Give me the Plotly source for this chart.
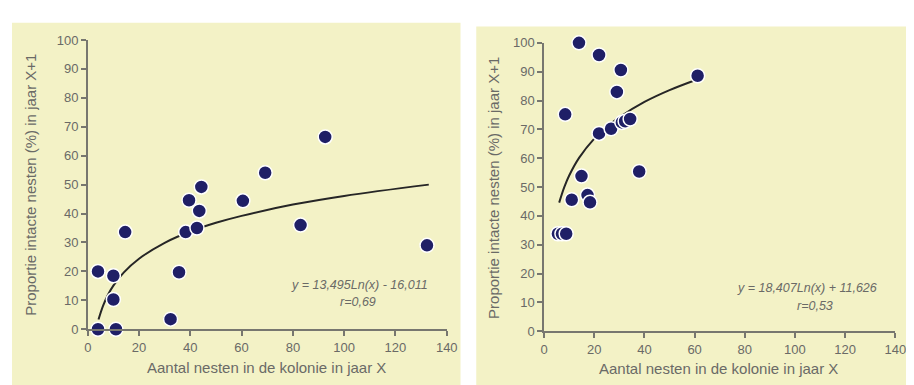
import plotly.graph_objects as go

# ---- data: left panel ----
left_x = [4, 4, 10, 10, 11, 14.6, 32.3, 35.6, 38.2, 39.5, 42.6, 43.5, 44.3, 60.5, 69.2, 83, 92.6, 132.3]
left_y = [0, 20, 10.3, 18.5, 0, 33.6, 3.5, 19.7, 33.6, 44.6, 35, 40.9, 49.2, 44.4, 54.1, 36, 66.5, 29]
left_fit_x = [4.2, 6, 8, 10, 14, 20, 30, 40, 50, 60, 80, 100, 133]
left_fit_y = [3.4, 8.2, 12.1, 15.1, 19.6, 24.4, 29.9, 33.8, 36.8, 39.2, 43.1, 46.1, 50.0]
left_eq = "y = 13,495Ln(x) - 16,011"
left_r = "r=0,69"

# ---- data: right panel ----
right_x = [5.5, 7.1, 8.8, 8.4, 11, 13.9, 14.9, 17.3, 18.3, 21.9, 21.9, 26.7, 29, 30.6, 31, 32.3, 34.3, 37.9, 61.2]
right_y = [33.8, 33.8, 33.8, 75.2, 45.6, 100, 53.8, 47.2, 44.7, 95.8, 68.6, 70.2, 83, 90.6, 72.4, 72.8, 73.6, 55.4, 88.6]
right_fit_x = [6, 8, 10, 14, 20, 25, 30, 40, 50, 61]
right_fit_y = [44.6, 49.9, 54.0, 60.2, 66.8, 70.9, 74.2, 79.5, 83.6, 87.3]
right_eq = "y = 18,407Ln(x) + 11,626"
right_r = "r=0,53"

x_ticks = [0, 20, 40, 60, 80, 100, 120, 140]
y_ticks = [0, 10, 20, 30, 40, 50, 60, 70, 80, 90, 100]
x_title = "Aantal nesten in de kolonie in jaar X"
y_title = "Proportie intacte nesten (%) in jaar X+1"

W, H = 914, 385
PANEL = "#f3f2c6"
NAVY = "#1f1f66"
GRAY = "#6a6a66"
AXIS = "#77776f"
FONT = "Liberation Sans, Arial, sans-serif"

fig = go.Figure()

marker = dict(size=14, color=NAVY, line=dict(color="white", width=1.5))
line = dict(color="#262626", width=2, shape="spline")

fig.add_trace(go.Scatter(x=left_fit_x, y=left_fit_y, mode="lines", line=line,
                         xaxis="x", yaxis="y", showlegend=False, hoverinfo="skip"))
fig.add_trace(go.Scatter(x=left_x, y=left_y, mode="markers", marker=marker,
                         xaxis="x", yaxis="y", showlegend=False, cliponaxis=False))
fig.add_trace(go.Scatter(x=right_fit_x, y=right_fit_y, mode="lines", line=line,
                         xaxis="x2", yaxis="y2", showlegend=False, hoverinfo="skip"))
fig.add_trace(go.Scatter(x=right_x, y=right_y, mode="markers", marker=marker,
                         xaxis="x2", yaxis="y2", showlegend=False, cliponaxis=False))

def px_x(p):
    return p / W

def px_y(p):
    return 1 - p / H

axis_common = dict(showgrid=False, zeroline=False, showline=True, linecolor=AXIS, linewidth=1.5,
                   ticks="outside", ticklen=5, tickcolor=AXIS, tickwidth=1.5,
                   tickfont=dict(family=FONT, size=13, color=GRAY))

fig.update_layout(
    width=W, height=H,
    margin=dict(l=0, r=0, t=0, b=0),
    paper_bgcolor="white",
    plot_bgcolor="rgba(0,0,0,0)",
    xaxis=dict(domain=[px_x(77), px_x(442)], range=[0, 140], tickvals=x_ticks, anchor="y",
               **axis_common),
    yaxis=dict(domain=[px_y(327), px_y(26)], range=[0, 100], tickvals=y_ticks, anchor="x",
               **axis_common),
    xaxis2=dict(domain=[px_x(541), px_x(898)], range=[0, 140], tickvals=x_ticks, anchor="y2",
                **axis_common),
    yaxis2=dict(domain=[px_y(329), px_y(29)], range=[0, 100], tickvals=y_ticks, anchor="x2",
                **axis_common),
    shapes=[
        dict(type="rect", xref="paper", yref="paper", x0=0, x1=px_x(456), y0=0, y1=px_y(8),
             fillcolor=PANEL, line=dict(width=0), layer="below"),
        dict(type="rect", xref="paper", yref="paper", x0=px_x(472), x1=1, y0=0, y1=px_y(12),
             fillcolor=PANEL, line=dict(width=0), layer="below"),
    ],
)

ann_font = dict(family=FONT, size=12.5, color=GRAY)
title_font = dict(family=FONT, size=15, color=GRAY)

def ann(text, x, y, font, angle=0):
    return dict(text=text, x=px_x(x), y=px_y(y), xref="paper", yref="paper",
                xanchor="center", yanchor="middle", textangle=angle,
                showarrow=False, font=font)

annotations = [
    ann("<i>%s</i>" % left_eq, 353, 281, ann_font),
    ann("<i>%s</i>" % left_r, 352, 299, ann_font),
    ann("<i>%s</i>" % right_eq, 808, 284, ann_font),
    ann("<i>%s</i>" % right_r, 816, 303, ann_font),
    ann(x_title, 259, 367, title_font),
    ann(x_title, 718, 368, title_font),
    ann(y_title, 18, 177, title_font, -90),
    ann(y_title, 490, 180, title_font, -90),
]
fig.update_layout(annotations=annotations)

fig.write_html("out.html")
